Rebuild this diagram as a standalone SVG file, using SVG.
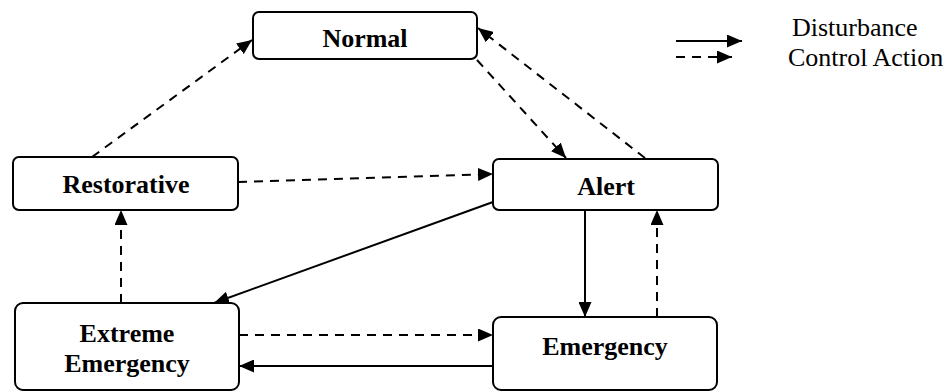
<svg xmlns="http://www.w3.org/2000/svg" width="946" height="392" viewBox="0 0 946 392">
<style>
.box{fill:#fff;stroke:#000;stroke-width:2}
.lbl{font-family:"Liberation Serif","Times New Roman",serif;font-weight:bold;font-size:26px;text-anchor:middle;fill:#000}
.leg{font-family:"Liberation Serif","Times New Roman",serif;font-size:26px;fill:#000}
.solid{fill:none;stroke:#000;stroke-width:2;marker-end:url(#ah)}
.dash{fill:none;stroke:#000;stroke-width:2;stroke-dasharray:9 7;marker-end:url(#ah)}
</style>
<defs>
<marker id="ah" markerUnits="userSpaceOnUse" markerWidth="15" markerHeight="13" refX="15" refY="6.5" orient="auto">
<path d="M0,0 L15,6.5 L0,13 z" fill="#000"/>
</marker>
</defs>
<rect width="946" height="392" fill="#fff"/>
<g id="connectors">
<path class="dash" d="M92,157 L252,40"/>
<path class="dash" d="M477,60 L566,158"/>
<path class="dash" d="M645,158 L478,28"/>
<path class="dash" d="M238,182 L493,174"/>
<path class="solid" d="M493,202 L214,303"/>
<path class="solid" d="M585,210 L585,317"/>
<path class="dash" d="M657,317 L657,210"/>
<path class="dash" d="M239,335 L493,335"/>
<path class="solid" d="M493,366 L239,366"/>
<path class="dash" d="M121,303 L121,210"/>
</g>
<g id="node-normal">
<rect class="box" x="253" y="12" width="224" height="47" rx="6"/>
<text class="lbl" x="365" y="47">Normal</text>
</g>
<g id="node-restorative">
<rect class="box" x="13" y="157" width="225" height="53" rx="6"/>
<text class="lbl" x="126" y="193">Restorative</text>
</g>
<g id="node-alert">
<rect class="box" x="493" y="159" width="225" height="51" rx="6"/>
<text class="lbl" x="606" y="195">Alert</text>
</g>
<g id="node-extreme">
<rect class="box" x="15" y="303" width="224" height="87" rx="8"/>
<text class="lbl" x="127" y="342">Extreme</text>
<text class="lbl" x="127" y="372">Emergency</text>
</g>
<g id="node-emergency">
<rect class="box" x="493" y="317" width="224" height="73" rx="8"/>
<text class="lbl" x="605" y="355">Emergency</text>
</g>
<g id="legend">
<path class="solid" d="M676,41 L742,41"/>
<path class="dash" d="M676,57 L732,57"/>
<text class="leg" x="792" y="36">Disturbance</text>
<text class="leg" x="788" y="66">Control Action</text>
</g>
</svg>
